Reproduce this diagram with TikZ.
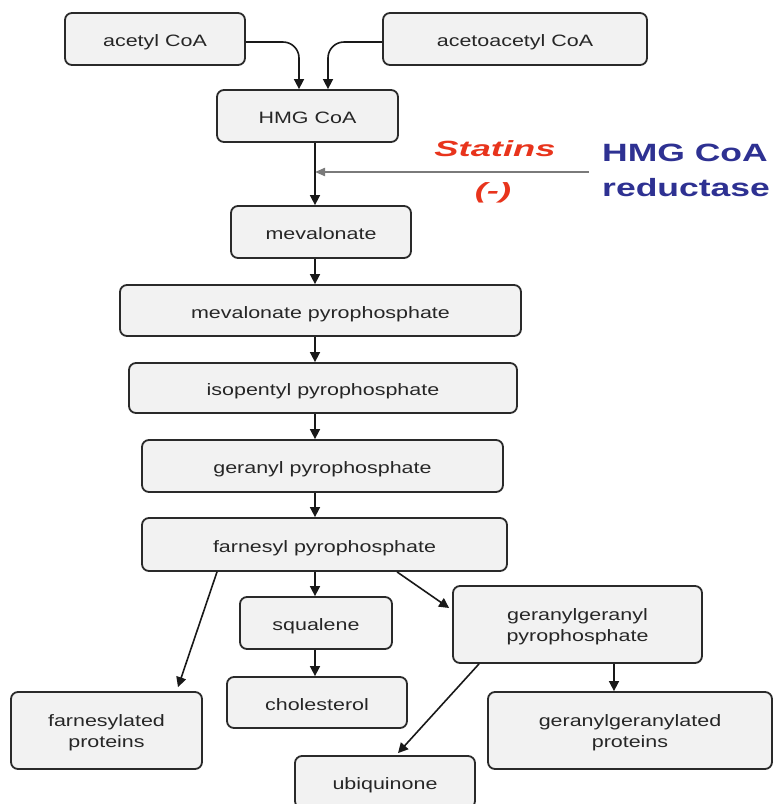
\documentclass[tikz,border=0pt]{standalone}
\usepackage{fontspec}
\setmainfont{Liberation Sans}[FakeStretch=1.3]
\newfontfamily\statinfont{Liberation Sans}[FakeStretch=1.65]
\newfontfamily\enzymefont{Liberation Sans}[FakeStretch=1.42]
\usetikzlibrary{arrows.meta}
\definecolor{boxfill}{HTML}{F2F2F2}
\definecolor{boxline}{HTML}{2A2A2A}
\definecolor{statinred}{HTML}{E8341C}
\definecolor{enzymeblue}{HTML}{2E3192}
\definecolor{inhibgray}{HTML}{7A7A7A}
\tikzset{
  stepbox/.style={draw=boxline, fill=boxfill, line width=1.8pt, rounded corners=7pt,
    inner sep=2pt, align=center, text=black!85, text height=15pt, text depth=0pt,
    font=\fontsize{16.5}{21}\selectfont},
  twoline/.style={text height=34pt},
  flow/.style={draw=black!90, line width=1.6pt, -{Triangle[length=10pt,width=10pt]}},
  inhib/.style={draw=inhibgray, line width=2pt, -{Triangle[length=10pt,width=8pt]}},
}
\begin{document}
\begin{tikzpicture}[x=1pt,y=-1pt]
\useasboundingbox (0,0) rectangle (773,804);

% x-positions of the vertical connectors
\coordinate (spine) at (315,0);
\coordinate (ggx) at (614,0);

% pathway steps
\node[stepbox, minimum width=180pt, minimum height=52pt] (acetyl) at (155,39) {acetyl CoA};
\node[stepbox, minimum width=264pt, minimum height=52pt] (acetoacetyl) at (515,39) {acetoacetyl CoA};
\node[stepbox, minimum width=181pt, minimum height=52pt] (hmg) at (307.5,116) {HMG CoA};
\node[stepbox, minimum width=180pt, minimum height=52pt] (mev) at (321,232) {mevalonate};
\node[stepbox, minimum width=401pt, minimum height=51pt] (mevpp) at (320.5,310.5) {mevalonate pyrophosphate};
\node[stepbox, minimum width=388pt, minimum height=50pt] (ipp) at (323,388) {isopentyl pyrophosphate};
\node[stepbox, minimum width=361pt, minimum height=52pt] (gpp) at (322.5,466) {geranyl pyrophosphate};
\node[stepbox, minimum width=365pt, minimum height=53pt] (fpp) at (324.5,544.5) {farnesyl pyrophosphate};
\node[stepbox, minimum width=152pt, minimum height=52pt] (squalene) at (316,623) {squalene};
\node[stepbox, minimum width=180pt, minimum height=51pt] (chol) at (317,702.5) {cholesterol};
\node[stepbox, twoline, minimum width=249pt, minimum height=77pt] (ggpp) at (577.5,624.5) {geranylgeranyl\\pyrophosphate};
\node[stepbox, twoline, minimum width=191pt, minimum height=77pt] (fprot) at (106.5,730.5) {farnesylated\\proteins};
\node[stepbox, twoline, minimum width=284pt, minimum height=77pt] (ggprot) at (630,730.5) {geranylgeranylated\\proteins};
\node[stepbox, minimum width=180pt, minimum height=52pt] (ubiq) at (385,782) {ubiquinone};

% statin inhibition of HMG CoA reductase
\node[text=statinred, font=\statinfont\bfseries\itshape\fontsize{22}{26}\selectfont] (statins) at (495,149) {Statins};
\node[text=statinred, font=\statinfont\bfseries\itshape\fontsize{22}{26}\selectfont] (minus) at (493,193) {(-)};
\node[text=enzymeblue, font=\enzymefont\bfseries\fontsize{25}{35}\selectfont, align=left, anchor=west, inner sep=0pt] (enzyme) at (602,170) {HMG CoA\\reductase};
\coordinate (inh) at (589,172);
\draw[inhib] (inh) -- (inh -| spine);

% converging inputs
\draw[flow, rounded corners=16pt] ([yshift=-3pt]acetyl.east) -| ([xshift=-8.5pt]hmg.north);
\draw[flow, rounded corners=16pt] ([yshift=-3pt]acetoacetyl.west) -| ([xshift=20.5pt]hmg.north);

% main chain
\draw[flow] (hmg.south -| spine) -- (mev.north -| spine);
\draw[flow] (mev.south -| spine) -- (mevpp.north -| spine);
\draw[flow] (mevpp.south -| spine) -- (ipp.north -| spine);
\draw[flow] (ipp.south -| spine) -- (gpp.north -| spine);
\draw[flow] (gpp.south -| spine) -- (fpp.north -| spine);
\draw[flow] (fpp.south -| spine) -- (squalene.north -| spine);
\draw[flow] (squalene.south -| spine) -- (chol.north -| spine);

% branches
\draw[flow] ([xshift=-107.5pt]fpp.south) -- ([xshift=71.5pt,yshift=4pt]fprot.north);
\draw[flow] ([xshift=72.5pt]fpp.south) -- ([xshift=-3pt,yshift=16.5pt]ggpp.west);
\draw[flow] (ggpp.south -| ggx) -- (ggprot.north -| ggx);
\draw[flow] ([xshift=-98.5pt]ggpp.south) -- ([xshift=13pt,yshift=2pt]ubiq.north);
\end{tikzpicture}
\end{document}
